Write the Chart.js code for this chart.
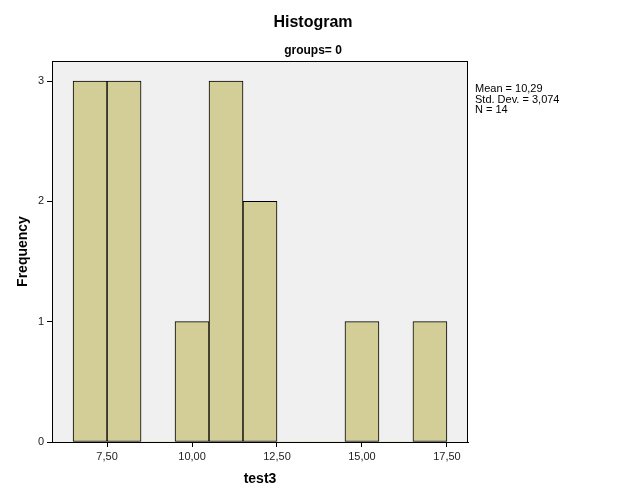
<!DOCTYPE html>
<html>
<head>
<meta charset="utf-8">
<title>Histogram</title>
<script src="https://cdn.jsdelivr.net/npm/chart.js@4/dist/chart.umd.min.js"></script>
<style>
  html, body { margin: 0; padding: 0; background: #fff; }
  #wrap { width: 626px; height: 501px; }
</style>
</head>
<body>
<div id="wrap"><canvas id="myChart" width="626" height="501"></canvas></div>
<script>
// datos del histograma (centro de cada intervalo y frecuencia)
const centros = [7, 8, 9, 10, 11, 12, 13, 14, 15, 16, 17];
const frecuencias = [3, 3, 0, 1, 3, 2, 0, 0, 1, 0, 1];
const ticksX = [7.5, 10, 12.5, 15, 17.5];
const ticksY = [0, 1, 2, 3];
const estadisticas = ["Mean = 10,29", "Std. Dev. = 3,074", "N = 14"];

const FUENTE = "'Liberation Sans', Arial, sans-serif";

// fondo gris, borde del area y textos
const decoracion = {
  id: "decoracion",
  beforeDraw(chart) {
    const { ctx, chartArea: a } = chart;
    ctx.save();
    ctx.fillStyle = "#f0f0f0";
    ctx.fillRect(a.left, a.top, a.right - a.left, a.bottom - a.top);
    ctx.restore();
  },
  afterDraw(chart) {
    const { ctx, chartArea: a } = chart;
    ctx.save();
    ctx.strokeStyle = "#000";
    ctx.lineWidth = 1;
    ctx.strokeRect(Math.round(a.left) + 0.5, Math.round(a.top) + 0.5,
      Math.round(a.right - a.left) - 1, Math.round(a.bottom - a.top));

    ctx.fillStyle = "#000";
    ctx.textAlign = "center";
    ctx.textBaseline = "middle";
    ctx.font = "bold 16px " + FUENTE;
    ctx.fillText("Histogram", 313, 23);
    ctx.font = "bold 12px " + FUENTE;
    ctx.fillText("groups= 0", 313, 51);

    ctx.textAlign = "left";
    ctx.font = "11px " + FUENTE;
    estadisticas.forEach((t, i) => ctx.fillText(t, 475, 89 + i * 10.5));
    ctx.restore();
  }
};

const config = {
  type: "bar",
  data: {
    datasets: [{
      label: "test3",
      data: centros.map((c, i) => ({ x: c, y: frecuencias[i] })),
      backgroundColor: "#d3ce97",
      borderColor: "#000",
      borderWidth: ctx => (frecuencias[ctx.dataIndex] > 0 ? 1 : 0),
      borderSkipped: false,
      barPercentage: 1,
      categoryPercentage: 1
    }]
  },
  options: {
    responsive: false,
    animation: false,
    layout: { padding: { top: 61, right: 158, left: 11, bottom: 0 } },
    plugins: {
      legend: { display: false },
      tooltip: { enabled: false }
    },
    scales: {
      x: {
        type: "linear",
        offset: false,
        min: 5.88,
        max: 18.12,
        afterBuildTicks: s => { s.ticks = ticksX.map(v => ({ value: v })); },
        afterFit: s => { s.height = 59; },
        grid: { offset: false, drawOnChartArea: false, tickLength: 5, color: "#000" },
        border: { display: true, color: "#000" },
        ticks: {
          color: "#222",
          font: { family: FUENTE, size: 11 },
          padding: 3,
          maxRotation: 0,
          callback: v => v.toFixed(2).replace(".", ",")
        },
        title: {
          display: true,
          text: "test3",
          color: "#000",
          font: { family: FUENTE, size: 14, weight: "bold" },
          padding: { top: 0, bottom: 13 }
        }
      },
      y: {
        min: 0,
        max: 3.167,
        afterBuildTicks: s => { s.ticks = ticksY.map(v => ({ value: v })); },
        afterFit: s => { s.width = 41; },
        grid: { drawOnChartArea: false, tickLength: 5, color: "#000" },
        border: { display: true, color: "#000" },
        ticks: {
          color: "#222",
          font: { family: FUENTE, size: 11 },
          padding: 3
        },
        title: {
          display: true,
          text: "Frequency",
          color: "#000",
          font: { family: FUENTE, size: 14, weight: "bold" },
          padding: { top: 4, bottom: 6 }
        }
      }
    }
  },
  plugins: [decoracion]
};

const chart = new Chart(document.getElementById("myChart"), config);
</script>
</body>
</html>
